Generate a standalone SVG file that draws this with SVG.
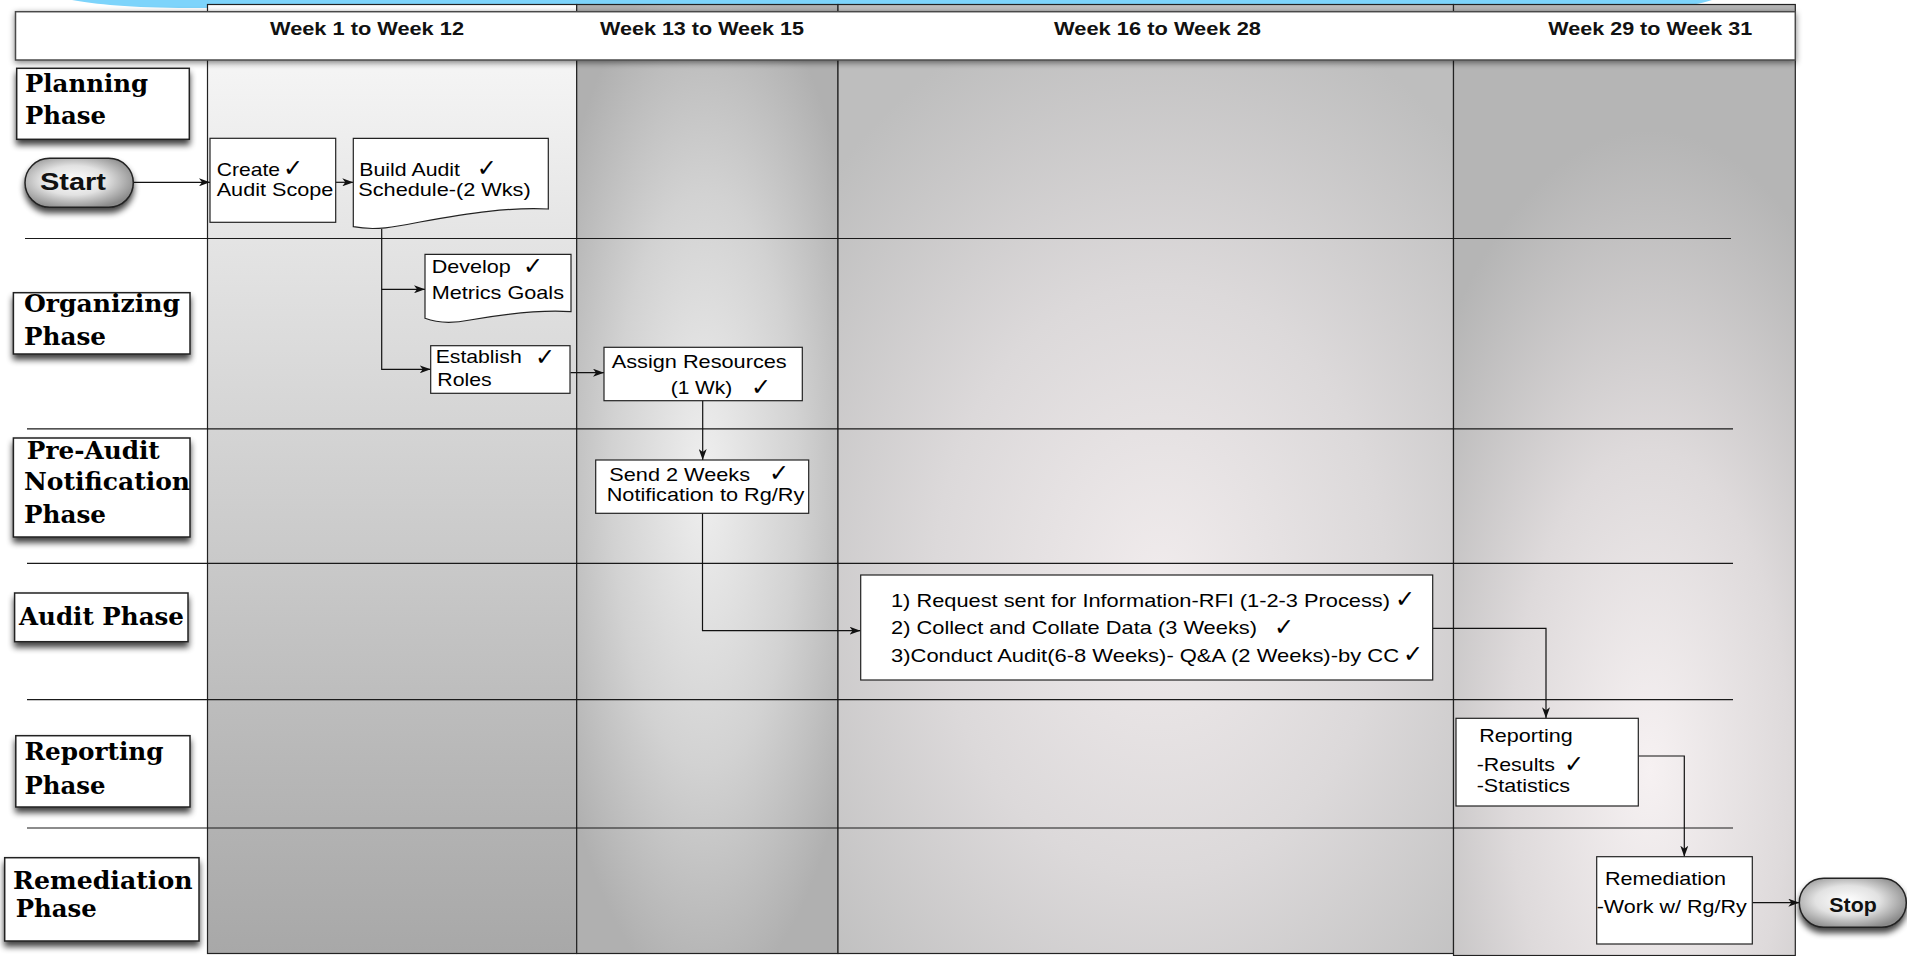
<svg xmlns="http://www.w3.org/2000/svg" width="1907" height="956" viewBox="0 0 1907 956">
<style>
.col{stroke:#222;stroke-width:1.2}
.lane{stroke:#1a1a1a;stroke-width:1.2;fill:none}
.hdr{font-family:"Liberation Sans",Arial,sans-serif;font-weight:bold;font-size:19px;fill:#111}
.ph{font-family:"DejaVu Serif",serif;font-weight:bold;font-size:24px;fill:#000}
.phbox{fill:#fff;stroke:#222;stroke-width:1.5}
.nb{fill:#fff;stroke:#222;stroke-width:1.2}
.nt{font-family:"Liberation Sans",Arial,sans-serif;font-size:18.5px;fill:#000}
.nt2{font-family:"Liberation Sans",Arial,sans-serif;font-size:19px;fill:#000}
.ck{font-family:"DejaVu Sans",sans-serif;font-size:24px;fill:#000;font-weight:bold}
.pill{fill:url(#pillg);stroke:#222;stroke-width:1.5}
.pt{font-family:"Liberation Sans",Arial,sans-serif;font-weight:bold;fill:#111}
.con{fill:none;stroke:#111;stroke-width:1.2;marker-end:url(#ah)}
</style>
<defs>
<marker id="ah" markerUnits="userSpaceOnUse" markerWidth="11" markerHeight="8" refX="11" refY="4" orient="auto">
<path d="M0,0 L11,4 L0,8 L3,4 Z" fill="#111"/>
</marker>
<filter id="sh" x="-20%" y="-20%" width="140%" height="170%">
<feGaussianBlur in="SourceAlpha" stdDeviation="3"/>
<feOffset dy="5" result="o"/>
<feComponentTransfer in="o" result="s"><feFuncA type="linear" slope="0.75"/></feComponentTransfer>
<feMerge><feMergeNode in="s"/><feMergeNode in="SourceGraphic"/></feMerge>
</filter>
<filter id="hsh" x="-5%" y="-50%" width="110%" height="200%">
<feGaussianBlur in="SourceAlpha" stdDeviation="3"/>
<feOffset dy="2" result="o"/>
<feComponentTransfer in="o" result="s"><feFuncA type="linear" slope="0.5"/></feComponentTransfer>
<feMerge><feMergeNode in="s"/><feMergeNode in="SourceGraphic"/></feMerge>
</filter>
<linearGradient id="g1" x1="0" y1="0" x2="0" y2="1">
<stop offset="0" stop-color="#ffffff"/>
<stop offset="0.07" stop-color="#f4f4f4"/>
<stop offset="0.25" stop-color="#e4e4e4"/>
<stop offset="0.45" stop-color="#d4d4d4"/>
<stop offset="0.6" stop-color="#c8c8c8"/>
<stop offset="0.78" stop-color="#b9b9b9"/>
<stop offset="1" stop-color="#a8a8a8"/>
</linearGradient>
<radialGradient id="g2" gradientUnits="userSpaceOnUse" cx="0" cy="0" r="1" gradientTransform="translate(705 480) scale(170 520)">
<stop offset="0" stop-color="#efefef"/>
<stop offset="0.55" stop-color="#d2d2d2"/>
<stop offset="1" stop-color="#b0b0b0"/>
</radialGradient>
<radialGradient id="g3" gradientUnits="userSpaceOnUse" cx="0" cy="0" r="1" gradientTransform="translate(1160 580) scale(450 590)">
<stop offset="0" stop-color="#f0ebec"/>
<stop offset="0.5" stop-color="#dcd9da"/>
<stop offset="1" stop-color="#bebebe"/>
</radialGradient>
<radialGradient id="g4" gradientUnits="userSpaceOnUse" cx="0" cy="0" r="1" gradientTransform="translate(1650 770) scale(280 640)">
<stop offset="0" stop-color="#f6f1f2"/>
<stop offset="0.5" stop-color="#dedadb"/>
<stop offset="1" stop-color="#b5b5b5"/>
</radialGradient>
<radialGradient id="pillg" cx="0.45" cy="0.45" r="0.6">
<stop offset="0" stop-color="#ffffff"/>
<stop offset="0.5" stop-color="#e2e2e2"/>
<stop offset="1" stop-color="#8a8a8a"/>
</radialGradient>
</defs>

<rect width="1907" height="956" fill="#ffffff"/>
<path d="M72,0 C95,4 130,8 190,8 L1640,8 C1680,8 1700,4 1712,0 Z" fill="#7dd4fb"/>

<g id="columns">
<rect class="col" x="207.5" y="4.5" width="369.2" height="949" fill="url(#g1)"/>
<rect class="col" x="576.7" y="4.5" width="261.3" height="949" fill="url(#g2)"/>
<rect class="col" x="838" y="4.5" width="615.5" height="949" fill="url(#g3)"/>
<rect class="col" x="1453.5" y="4.5" width="341.8" height="951" fill="url(#g4)"/>
</g>

<g id="lanes">
<line class="lane" x1="25" y1="238.5" x2="1731" y2="238.5"/>
<line class="lane" x1="27" y1="428.8" x2="1733" y2="428.8"/>
<line class="lane" x1="27" y1="563.3" x2="1733" y2="563.3"/>
<line class="lane" x1="27" y1="699.7" x2="1733" y2="699.7"/>
<line class="lane" x1="27" y1="828" x2="1733" y2="828"/>
</g>

<g id="header">
<rect x="15.5" y="11.7" width="1779.8" height="48.3" fill="#fff" stroke="#4a4a4a" stroke-width="1.5" filter="url(#hsh)"/>
<text class="hdr" x="270" y="35" textLength="194" lengthAdjust="spacingAndGlyphs">Week 1 to Week 12</text>
<text class="hdr" x="600" y="35" textLength="204" lengthAdjust="spacingAndGlyphs">Week 13 to Week 15</text>
<text class="hdr" x="1054" y="35" textLength="207" lengthAdjust="spacingAndGlyphs">Week 16 to Week 28</text>
<text class="hdr" x="1548.3" y="35" textLength="204" lengthAdjust="spacingAndGlyphs">Week 29 to Week 31</text>
</g>

<g id="phase-planning">
<rect class="phbox" x="16.7" y="68.3" width="172.6" height="71" filter="url(#sh)"/>
<text class="ph" x="25" y="91.7" textLength="123" lengthAdjust="spacingAndGlyphs">Planning</text>
<text class="ph" x="25" y="124" textLength="81" lengthAdjust="spacingAndGlyphs">Phase</text>
</g>
<g id="phase-organizing">
<rect class="phbox" x="13.4" y="292.7" width="176.6" height="61.3" filter="url(#sh)"/>
<text class="ph" x="24" y="311.7" textLength="156" lengthAdjust="spacingAndGlyphs">Organizing</text>
<text class="ph" x="24" y="345" textLength="82" lengthAdjust="spacingAndGlyphs">Phase</text>
</g>
<g id="phase-preaudit">
<rect class="phbox" x="13.4" y="438" width="176.6" height="99" filter="url(#sh)"/>
<text class="ph" x="26.8" y="459" textLength="133" lengthAdjust="spacingAndGlyphs">Pre-Audit</text>
<text class="ph" x="24" y="490" textLength="166" lengthAdjust="spacingAndGlyphs">Notification</text>
<text class="ph" x="24" y="522.7" textLength="82" lengthAdjust="spacingAndGlyphs">Phase</text>
</g>
<g id="phase-audit">
<rect class="phbox" x="14.6" y="593" width="173.4" height="48.7" filter="url(#sh)"/>
<text class="ph" x="19" y="625" textLength="165" lengthAdjust="spacingAndGlyphs">Audit Phase</text>
</g>
<g id="phase-reporting">
<rect class="phbox" x="15.8" y="735.7" width="174.2" height="71.3" filter="url(#sh)"/>
<text class="ph" x="24.5" y="760" textLength="139" lengthAdjust="spacingAndGlyphs">Reporting</text>
<text class="ph" x="24.5" y="794" textLength="81" lengthAdjust="spacingAndGlyphs">Phase</text>
</g>
<g id="phase-remediation">
<rect class="phbox" x="4.7" y="857.7" width="194.3" height="83.3" filter="url(#sh)"/>
<text class="ph" x="13" y="889.3" textLength="179.6" lengthAdjust="spacingAndGlyphs">Remediation</text>
<text class="ph" x="15.8" y="917" textLength="81" lengthAdjust="spacingAndGlyphs">Phase</text>
</g>

<g id="connectors">
<path class="con" d="M133.5,182.3 H210"/>
<path class="con" d="M335.7,182.3 H353.3"/>
<path class="con" d="M381.7,229 V369.3 H430.7"/>
<path class="con" d="M381.7,289.3 H425"/>
<path class="con" d="M570.5,372.7 H604"/>
<path class="con" d="M702.7,400.7 V460"/>
<path class="con" d="M702.5,513.3 V630.7 H860.5"/>
<path class="con" d="M1432.6,628.3 H1546 V718.3"/>
<path class="con" d="M1638.3,756 H1684.3 V856.7"/>
<path class="con" d="M1752.3,902.7 H1799.3"/>
</g>

<g id="node-start">
<rect class="pill" x="25" y="158.3" width="108.3" height="49" rx="24.5" filter="url(#sh)"/>
<text class="pt" x="40" y="190" font-size="24" textLength="66" lengthAdjust="spacingAndGlyphs">Start</text>
</g>
<g id="node-create">
<rect class="nb" x="210" y="138.3" width="125.7" height="84"/>
<text class="nt" x="216.7" y="175.7" textLength="63.3" lengthAdjust="spacingAndGlyphs">Create</text>
<text class="ck" x="283" y="175.7">✓</text>
<text class="nt" x="216.7" y="196" textLength="116.6" lengthAdjust="spacingAndGlyphs">Audit Scope</text>
</g>
<g id="node-build">
<path class="nb" d="M353.3,138.3 H548.3 V209 C510,207 470,213 420,222 C395,227 375,231 353.3,226.7 Z"/>
<text class="nt" x="359.3" y="175.7" textLength="100.7" lengthAdjust="spacingAndGlyphs">Build Audit</text>
<text class="ck" x="476.7" y="175.7">✓</text>
<text class="nt" x="358.3" y="196" textLength="172.4" lengthAdjust="spacingAndGlyphs">Schedule-(2 Wks)</text>
</g>
<g id="node-develop">
<path class="nb" d="M425,254.3 H571 V311.7 C545,310 510,313 470,320 C455,323 440,324 425,318.3 Z"/>
<text class="nt" x="431.7" y="272.7" textLength="79" lengthAdjust="spacingAndGlyphs">Develop</text>
<text class="ck" x="523" y="274">✓</text>
<text class="nt" x="431.7" y="299.3" textLength="132.3" lengthAdjust="spacingAndGlyphs">Metrics Goals</text>
</g>
<g id="node-establish">
<rect class="nb" x="430.7" y="345.7" width="139.3" height="47.6"/>
<text class="nt" x="435.7" y="363.3" textLength="86" lengthAdjust="spacingAndGlyphs">Establish</text>
<text class="ck" x="535" y="365">✓</text>
<text class="nt" x="437.3" y="385.5" textLength="54.4" lengthAdjust="spacingAndGlyphs">Roles</text>
</g>
<g id="node-assign">
<rect class="nb" x="604" y="347.3" width="198.3" height="53.4"/>
<text class="nt" x="611.7" y="368.3" textLength="175" lengthAdjust="spacingAndGlyphs">Assign Resources</text>
<text class="nt" x="670.7" y="394" textLength="61.6" lengthAdjust="spacingAndGlyphs">(1 Wk)</text>
<text class="ck" x="751" y="395">✓</text>
</g>
<g id="node-send">
<rect class="nb" x="595.7" y="460" width="213" height="53.3"/>
<text class="nt" x="609.3" y="480.5" textLength="140.7" lengthAdjust="spacingAndGlyphs">Send 2 Weeks</text>
<text class="ck" x="769" y="481">✓</text>
<text class="nt" x="606.7" y="501" textLength="197.6" lengthAdjust="spacingAndGlyphs">Notification to Rg/Ry</text>
</g>
<g id="node-audit">
<rect class="nb" x="860.7" y="575" width="572" height="105"/>
<text class="nt" x="891" y="606.5" textLength="499" lengthAdjust="spacingAndGlyphs">1) Request sent for Information-RFI (1-2-3 Process)</text>
<text class="ck" x="1395" y="607">✓</text>
<text class="nt" x="891" y="634" textLength="366" lengthAdjust="spacingAndGlyphs">2) Collect and Collate Data (3 Weeks)</text>
<text class="ck" x="1274" y="634.5">✓</text>
<text class="nt" x="891" y="661.5" textLength="508" lengthAdjust="spacingAndGlyphs">3)Conduct Audit(6-8 Weeks)- Q&amp;A (2 Weeks)-by CC</text>
<text class="ck" x="1403" y="662">✓</text>
</g>
<g id="node-reporting">
<rect class="nb" x="1456" y="718.3" width="182.3" height="87.7"/>
<text class="nt2" x="1479.3" y="741.7" textLength="93.4" lengthAdjust="spacingAndGlyphs">Reporting</text>
<text class="nt2" x="1476.7" y="770.7" textLength="78.3" lengthAdjust="spacingAndGlyphs">-Results</text>
<text class="ck" x="1564" y="771.5">✓</text>
<text class="nt2" x="1476.7" y="792.3" textLength="93.3" lengthAdjust="spacingAndGlyphs">-Statistics</text>
</g>
<g id="node-remediation">
<rect class="nb" x="1596.7" y="856.7" width="155.6" height="87.3"/>
<text class="nt2" x="1605" y="885" textLength="121" lengthAdjust="spacingAndGlyphs">Remediation</text>
<text class="nt2" x="1596.7" y="912.7" textLength="150" lengthAdjust="spacingAndGlyphs">-Work w/ Rg/Ry</text>
</g>
<g id="node-stop">
<rect class="pill" x="1799.3" y="878.3" width="107" height="49" rx="24.5" filter="url(#sh)"/>
<text class="pt" x="1829.3" y="911.7" font-size="20" textLength="47.4" lengthAdjust="spacingAndGlyphs">Stop</text>
</g>
</svg>
